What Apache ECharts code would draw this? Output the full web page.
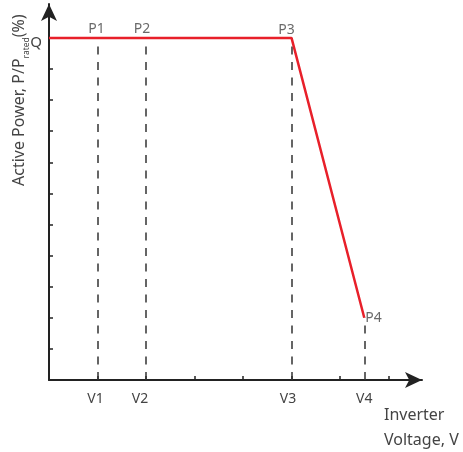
<!DOCTYPE html>
<html><head><meta charset="utf-8">
<script src="https://cdn.jsdelivr.net/npm/echarts@6/dist/echarts.min.js"></script>
<style>html,body{margin:0;padding:0;background:#fff}#c{width:463px;height:452px}</style>
</head><body><div id="c"></div>
<script>
const pointNames = ['P1', 'P2', 'P3', 'P4'];
const voltageLabels = ['V1', 'V2', 'V3', 'V4'];
const voltageValues = [1, 2, 5, 6.5];
const powerValues = [11, 11, 11, 2];
const curveX = [0, 5, 6.5];
const curveY = [11, 11, 2];
const xTickValues = [1, 2, 3, 4, 5, 6, 7];
const yTickValues = [1, 2, 3, 4, 5, 6, 7, 8, 9, 10, 11];
const yLabelValues = [11];
const yLabelTexts = ['Q'];

const FONT = 'Noto Sans';
const TXT = '#444';
const chart = echarts.init(document.getElementById('c'));

const labelPos = ['top', 'top', 'top', 'right'];
const labelOff = [[-1, 1], [-4, 1], [-5, 2], [-2, 0]];
const vShift = [4, 12, 7, 0];

const vRich = {};
voltageLabels.forEach((t, i) => {
  vRich['v' + i] = { fontFamily: FONT, fontSize: 14, color: TXT, padding: [0, vShift[i], 0, 0] };
});

chart.setOption({
  animation: false,
  grid: { left: 49, top: 4, width: 373, height: 376 },
  xAxis: {
    type: 'value', min: 0, max: 7.69,
    axisLine: { show: true, symbol: ['none', 'arrow'], symbolSize: [12, 17], lineStyle: { color: '#222', width: 2 } },
    axisTick: { show: true, inside: true, length: 4, customValues: xTickValues, lineStyle: { color: '#222', width: 1.5 } },
    axisLabel: { show: true, customValues: voltageValues, margin: 12,
      formatter: v => { const i = voltageValues.indexOf(v); return i < 0 ? '' : '{v' + i + '|' + voltageLabels[i] + '}'; },
      rich: vRich,
      color: TXT, fontFamily: FONT, fontSize: 14 },
    splitLine: { show: false }
  },
  yAxis: {
    type: 'value', min: 0, max: 12.09,
    axisLine: { show: true, symbol: ['none', 'arrow'], symbolSize: [12, 17], lineStyle: { color: '#222', width: 2 } },
    axisTick: { show: true, inside: true, length: 4, customValues: yTickValues, lineStyle: { color: '#222', width: 1.5 } },
    axisLabel: { show: true, customValues: yLabelValues, margin: 7, verticalAlign: 'top', lineHeight: 10,
      formatter: v => yLabelTexts[yLabelValues.indexOf(v)] || '',
      color: TXT, fontFamily: FONT, fontSize: 15 },
    splitLine: { show: false }
  },
  graphic: [
    { type: 'text', x: 10, y: 186, rotation: Math.PI / 2,
      style: { text: '{a|Active Power, P/P}{s|rated}{a|(%)}',
        rich: {
          a: { fontFamily: FONT, fontSize: 16, fill: TXT, lineHeight: 18 },
          s: { fontFamily: FONT, fontSize: 8.5, fill: TXT, lineHeight: 18, padding: [15, 0, 0, 0] }
        } } },
    { type: 'text', x: 384, y: 403,
      style: { text: 'Inverter\nVoltage, V', fontFamily: FONT, fontSize: 16, fill: TXT, lineHeight: 25 } }
  ],
  series: [
    { type: 'line', data: curveX.map((x, i) => [x, curveY[i]]), showSymbol: false, symbol: 'none',
      lineStyle: { color: '#e8202a', width: 2.5 }, z: 5 },
    { type: 'line', data: [], symbol: 'none',
      markLine: { silent: true, symbol: ['none', 'none'], label: { show: false },
        lineStyle: { type: [8, 7.5], color: '#333', width: 1.5 },
        data: voltageValues.map((v, i) => [{ coord: [v, 0] }, { coord: [v, powerValues[i]] }]) } },
    { type: 'scatter', symbolSize: 0, z: 6,
      data: voltageValues.map((v, i) => ({ value: [v, powerValues[i]],
        label: { show: true, position: labelPos[i], offset: labelOff[i], distance: 3,
          formatter: pointNames[i], color: TXT, fontFamily: FONT, fontSize: 14 } })) }
  ]
});
</script></body></html>
